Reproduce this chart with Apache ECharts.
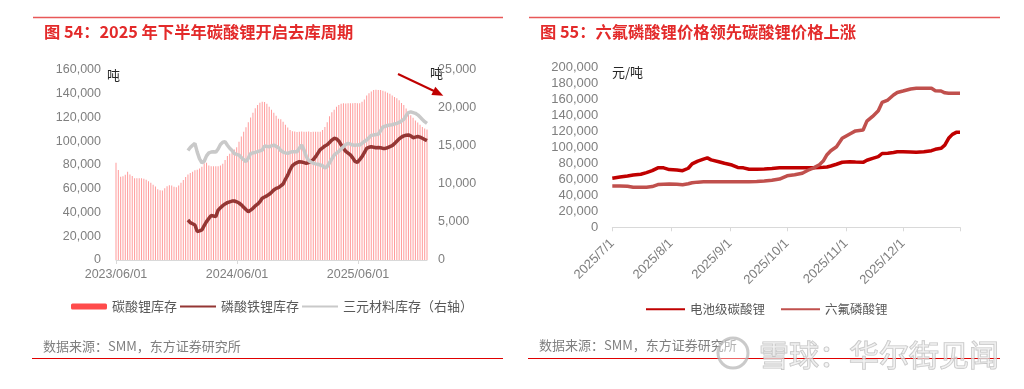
<!DOCTYPE html>
<html><head><meta charset="utf-8">
<script src="https://cdn.jsdelivr.net/npm/echarts@6/dist/echarts.min.js"></script>
<style>html,body{margin:0;padding:0;background:#fff}#c{width:1024px;height:389px}</style>
</head><body><div id="c"></div>
<script>
// ---------- Chart 1: weekly inventory (week 0 = 2023/06/01) ----------
const weekTickPos = [0, 52.14, 104.28];
const weekTickLabels = ['2023/06/01', '2024/06/01', '2025/06/01'];
const weekAxisMax = 134;
const li2co3Inventory = [
  82000,75800,70200,70500,71800,74400,72000,70700,68800,68800,
  68800,68800,68500,67500,66300,65000,63300,61800,59600,58800,
  58600,60500,62200,62900,62800,61600,61300,62800,65000,67400,
  69800,72000,73200,74400,75600,76000,77000,78600,81500,82000,
  79500,79000,79000,79000,79000,79500,81000,84200,87500,89500,
  90800,93000,95000,99500,104000,108000,111800,116000,120000,124000,
  127800,130500,132400,133300,133000,131500,129000,126500,124000,121500,
  119000,118500,116500,114000,111500,109500,108500,108200,107800,108000,
  108300,107900,108000,108200,107800,108000,108100,107900,108000,109500,
  112000,116000,121000,124500,126500,129000,130500,131500,132000,131800,
  132100,131900,132000,132200,131900,132000,133200,135200,138500,140500,
  142000,143200,143300,143200,143200,142600,141800,140800,140000,138600,
  137200,136200,134500,132300,130500,127500,124300,121800,119800,117500,
  115800,114000,112000,110800,110000
];
const lfpStartWeek = 31;
const lfpInventory = [
  33700,31500,30500,29500,24000,24500,25300,29000,32300,35000,
  37500,37000,36500,42000,44000,45800,47200,48300,49000,49600,
  49700,49000,48000,46500,44500,42500,40700,42000,43500,45500,
  47000,49000,52000,53000,54000,55300,57000,59000,60300,61000,
  62500,64000,68000,71500,76000,79500,81000,82000,82800,82500,
  82000,81400,82000,82800,84500,87000,90000,93000,94500,96000,
  97000,99000,101000,102500,102000,100200,97000,94000,91500,90000,
  88500,86000,83000,82200,84500,87000,90500,94000,95000,95400,
  95000,94500,94800,94500,94000,94000,94500,95500,96300,98000,
  100000,102000,103500,104500,105000,105300,104500,103000,103500,104000,
  103500,102500,101500,100500
];
const ternaryStartWeek = 31;
const ternaryInventory = [
  14400,14800,15100,15350,14200,13300,12800,13000,13700,14100,
  14200,14250,14200,14600,15200,15500,15570,15100,14700,14400,
  14000,13900,13800,13500,13200,12950,13400,14000,14100,14150,
  14250,14350,14470,15000,14950,14900,15000,15130,14950,14780,
  14400,14200,14100,14030,14150,14250,14250,14250,14700,15130,
  14470,13600,13100,12900,12750,12650,12600,12500,12400,12100,
  12300,12800,13300,13800,14050,14300,14600,14900,15200,15350,
  15250,15130,15100,15150,15130,15350,15600,15800,16100,16400,
  16450,16500,16540,17000,17500,17600,17700,17760,17800,17900,
  17980,18100,18300,18500,19000,19400,19500,19400,19300,19100,
  18800,18500,18200,17980
];

// ---------- Chart 2: prices ----------
const priceDates = [
  '2025-07-01','2025-07-05','2025-07-09','2025-07-12','2025-07-16','2025-07-19','2025-07-22','2025-07-25','2025-07-28','2025-07-31',
  '2025-08-04','2025-08-07','2025-08-10','2025-08-12','2025-08-15','2025-08-18','2025-08-20','2025-08-22','2025-08-26','2025-08-29',
  '2025-09-02','2025-09-05','2025-09-08','2025-09-11','2025-09-15','2025-09-19','2025-09-23','2025-09-27',
  '2025-10-01','2025-10-05','2025-10-09','2025-10-12','2025-10-15','2025-10-18','2025-10-20','2025-10-22','2025-10-24','2025-10-27','2025-10-30',
  '2025-11-03','2025-11-06','2025-11-10','2025-11-12','2025-11-15','2025-11-18','2025-11-20','2025-11-23','2025-11-26','2025-11-28',
  '2025-12-01','2025-12-05','2025-12-08','2025-12-12','2025-12-16','2025-12-18','2025-12-21','2025-12-23','2025-12-25','2025-12-27','2025-12-29','2025-12-31'
];
const batteryLi2co3Price = [
  61400,63000,64300,65500,66500,68500,71000,74500,74500,72300,
  71800,71000,74000,79500,83000,85500,87000,84500,82200,80200,
  78000,75000,74500,72700,72700,73200,73800,74500,
  74700,74700,74700,74700,74700,75000,75200,75500,76800,79000,81500,
  82200,81800,81400,84000,86400,88500,92500,92700,93800,94700,
  94700,94300,93900,94700,96000,97700,99000,103000,111500,116500,119000,119000
];
const lipf6Price = [
  51800,51800,51500,50300,50100,50300,51000,53500,54000,54200,
  53900,53300,54500,55800,56600,57000,57100,57100,57100,57100,
  57000,57000,57100,57100,57300,58000,59000,60500,
  64500,65800,67800,71500,74500,78500,83000,91000,96000,101000,111500,
  117000,120800,121900,133000,139000,146000,156500,159500,165800,169000,
  170800,173300,174200,174200,174200,171200,170800,168500,167900,167900,167900,167900
];
const monthTicks = ['2025-07-01','2025-08-01','2025-09-01','2025-10-01','2025-11-01','2025-12-01'];
const priceAxisStart = '2025-07-01';
const priceAxisEnd = '2025-12-31';

function ts(s) { const p = s.split('-').map(Number); return Date.UTC(p[0], p[1] - 1, p[2]); }

const LATIN = '"Liberation Sans", Arial, sans-serif';
const CJK = '"Noto Sans CJK SC", "Liberation Sans", sans-serif';
const AX = '#7F7F7F';
const AXLINE = '#D9D9D9';
const noSymbol = { opacity: 0 };

const chart = echarts.init(document.getElementById('c'));
chart.setOption({
  animation: false,
  textStyle: { fontFamily: CJK },
  grid: [
    { left: 116, top: 70, width: 311, height: 190 },
    { left: 612.3, top: 67.7, width: 347.7, height: 159.6 }
  ],
  xAxis: [
    {
      type: 'value', gridIndex: 0, min: 0, max: weekAxisMax,
      axisLine: { show: true, lineStyle: { color: AXLINE } },
      axisTick: { show: true, customValues: weekTickPos, length: 4, lineStyle: { color: AXLINE } },
      axisLabel: {
        customValues: weekTickPos, color: AX, fontSize: 12.5, fontFamily: LATIN, margin: 8,
        formatter: function (v) {
          let best = -1, bd = 1e9;
          weekTickPos.forEach(function (p, i) { const d = Math.abs(p - v); if (d < bd) { bd = d; best = i; } });
          return bd < 0.5 ? weekTickLabels[best] : '';
        }
      },
      splitLine: { show: false }
    },
    {
      type: 'value', gridIndex: 1, min: ts(priceAxisStart), max: ts(priceAxisEnd),
      axisLine: { show: true, lineStyle: { color: AXLINE } },
      axisTick: { show: true, customValues: monthTicks.map(ts).concat([ts(priceAxisEnd)]), length: 4, lineStyle: { color: AXLINE } },
      axisLabel: {
        customValues: monthTicks.map(ts), rotate: 45, color: AX, fontSize: 13, fontFamily: LATIN, margin: 14,
        formatter: function (v) {
          const d = new Date(v);
          return d.getUTCFullYear() + '/' + (d.getUTCMonth() + 1) + '/' + d.getUTCDate();
        }
      },
      splitLine: { show: false }
    }
  ],
  yAxis: [
    {
      type: 'value', gridIndex: 0, min: 0, max: 160000, interval: 20000,
      axisLine: { show: false }, axisTick: { show: false }, splitLine: { show: false },
      axisLabel: { color: AX, fontSize: 12.5, fontFamily: LATIN, margin: 15 }
    },
    {
      type: 'value', gridIndex: 0, position: 'right', min: 0, max: 25000, interval: 5000,
      axisLine: { show: false }, axisTick: { show: false }, splitLine: { show: false },
      axisLabel: { color: AX, fontSize: 12.5, fontFamily: LATIN, margin: 11 }
    },
    {
      type: 'value', gridIndex: 1, min: 0, max: 200000, interval: 20000,
      axisLine: { show: false }, axisTick: { show: false }, splitLine: { show: false },
      axisLabel: { color: AX, fontSize: 13, fontFamily: LATIN, margin: 14 }
    }
  ],
  legend: [
    {
      data: [
        { name: '碳酸锂库存', itemStyle: { color: '#FF4B4B', opacity: 1 } },
        { name: '磷酸铁锂库存', itemStyle: noSymbol },
        { name: '三元材料库存（右轴）', itemStyle: noSymbol }
      ],
      left: 71, top: 300, padding: 0, itemWidth: 36, itemHeight: 6, itemGap: 2,
      textStyle: { color: '#595959', fontSize: 13, fontFamily: CJK }
    },
    {
      data: [
        { name: '电池级碳酸锂', itemStyle: noSymbol },
        { name: '六氟磷酸锂', itemStyle: noSymbol }
      ],
      left: 645, top: 303, padding: 0, itemWidth: 39, itemHeight: 6, itemGap: 15,
      textStyle: { color: '#595959', fontSize: 12.5, fontFamily: CJK }
    }
  ],
  series: [
    {
      name: '碳酸锂库存', type: 'bar', xAxisIndex: 0, yAxisIndex: 0, barWidth: 0.8,
      itemStyle: { color: '#FF4B4B', opacity: 0.55 },
      data: li2co3Inventory.map(function (v, i) { return [i, v]; })
    },
    {
      name: '磷酸铁锂库存', type: 'line', xAxisIndex: 0, yAxisIndex: 0, symbol: 'none',
      lineStyle: { color: '#943634', width: 3.5 }, itemStyle: { color: '#943634' },
      data: lfpInventory.map(function (v, i) { return [lfpStartWeek + i, v]; })
    },
    {
      name: '三元材料库存（右轴）', type: 'line', xAxisIndex: 0, yAxisIndex: 1, symbol: 'none',
      lineStyle: { color: '#C9C9C9', width: 3.5 }, itemStyle: { color: '#C9C9C9' },
      data: ternaryInventory.map(function (v, i) { return [ternaryStartWeek + i, v]; })
    },
    {
      name: '电池级碳酸锂', type: 'line', xAxisIndex: 1, yAxisIndex: 2, symbol: 'none',
      lineStyle: { color: '#C00000', width: 3.5 }, itemStyle: { color: '#C00000' },
      data: priceDates.map(function (d, i) { return [ts(d), batteryLi2co3Price[i]]; })
    },
    {
      name: '六氟磷酸锂', type: 'line', xAxisIndex: 1, yAxisIndex: 2, symbol: 'none',
      lineStyle: { color: '#C0504D', width: 3.5 }, itemStyle: { color: '#C0504D' },
      data: priceDates.map(function (d, i) { return [ts(d), lipf6Price[i]]; })
    }
  ],
  graphic: [
    { type: 'line', shape: { x1: 33, y1: 17.5, x2: 503, y2: 17.5 }, style: { stroke: '#E85858', lineWidth: 1.5 } },
    { type: 'line', shape: { x1: 529, y1: 17.5, x2: 1000, y2: 17.5 }, style: { stroke: '#E85858', lineWidth: 1.5 } },
    { type: 'text', x: 44, y: 32, style: { text: '图 54：2025 年下半年碳酸锂开启去库周期', fill: '#E32A2A', font: 'bold 16.3px "Noto Sans CJK SC"', verticalAlign: 'middle' } },
    { type: 'text', x: 540, y: 32, style: { text: '图 55：六氟磷酸锂价格领先碳酸锂价格上涨', fill: '#E32A2A', font: 'bold 16.3px "Noto Sans CJK SC"', verticalAlign: 'middle' } },
    { type: 'text', x: 107, y: 75, style: { text: '吨', fill: '#262626', font: '13px "Noto Sans CJK SC"', verticalAlign: 'middle' } },
    { type: 'text', x: 430, y: 73, style: { text: '吨', fill: '#262626', font: '13px "Noto Sans CJK SC"', verticalAlign: 'middle' } },
    { type: 'text', x: 612, y: 72, style: { text: '元/吨', fill: '#262626', font: '13px "Noto Sans CJK SC"', verticalAlign: 'middle' } },
    { type: 'line', shape: { x1: 398, y1: 74, x2: 434, y2: 91 }, style: { stroke: '#C00000', lineWidth: 2 } },
    { type: 'polygon', shape: { points: [[443.3, 95.7], [431.4, 95.0], [435.3, 86.8]] }, style: { fill: '#C00000' } },
    { type: 'text', x: 43, y: 346, style: { text: '数据来源：SMM，东方证券研究所', fill: '#7F7F7F', font: '13px "Noto Sans CJK SC"', verticalAlign: 'middle' } },
    { type: 'text', x: 539, y: 345, style: { text: '数据来源：SMM，东方证券研究所', fill: '#7F7F7F', font: '13px "Noto Sans CJK SC"', verticalAlign: 'middle' } },
    { type: 'line', shape: { x1: 32, y1: 358.5, x2: 503, y2: 358.5 }, style: { stroke: '#E00000', lineWidth: 1 } },
    { type: 'line', shape: { x1: 528, y1: 358.5, x2: 1000, y2: 358.5 }, style: { stroke: '#E00000', lineWidth: 1 } },
    { type: 'circle', shape: { cx: 733, cy: 353, r: 15 }, style: { fill: 'rgba(255,255,255,0.4)', stroke: 'rgba(180,180,180,0.7)', lineWidth: 3 } },
    { type: 'text', x: 759, y: 355, style: { text: '雪球：华尔街见闻', fill: 'rgba(240,240,240,0.6)', stroke: 'rgba(175,175,175,0.75)', lineWidth: 1.2, font: '30px "Noto Sans CJK SC"', verticalAlign: 'middle' } }
  ]
});
</script>
</body></html>
